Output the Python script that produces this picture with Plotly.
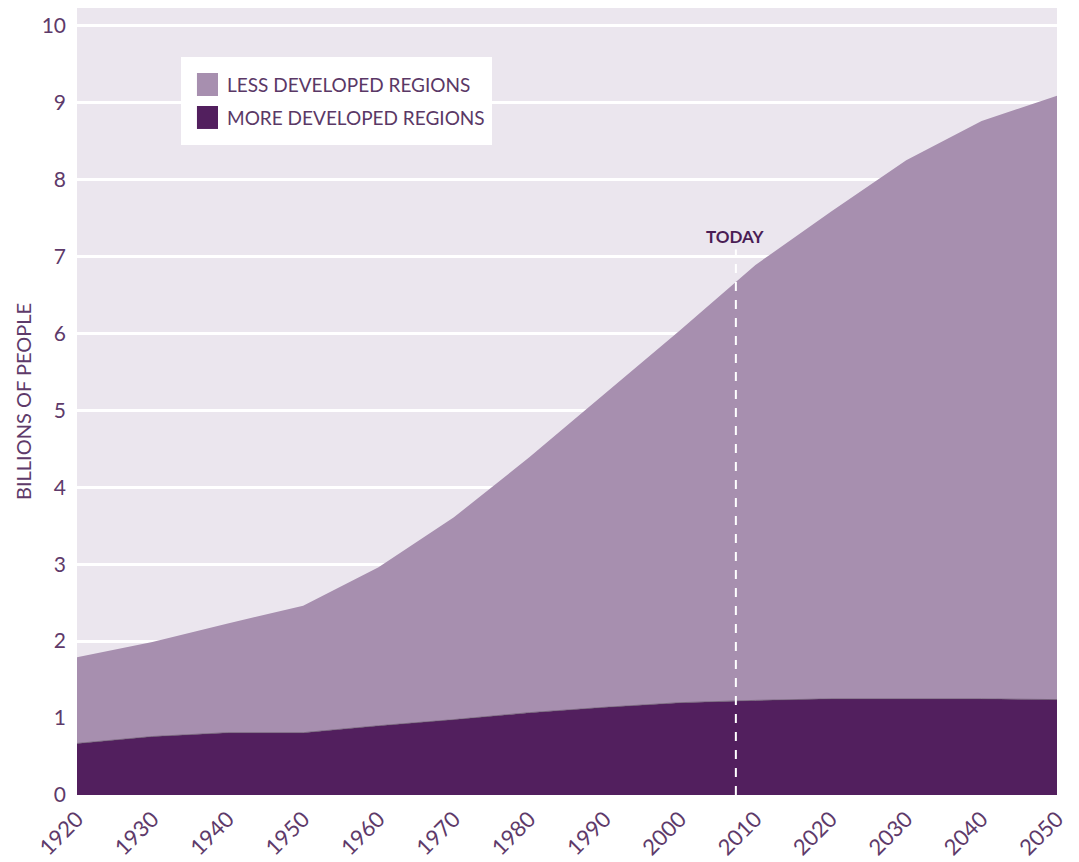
import plotly.graph_objects as go

years = [1920, 1930, 1940, 1950, 1960, 1970, 1980, 1990, 2000, 2010, 2020, 2030, 2040, 2050]
more_developed = [0.67, 0.76, 0.81, 0.81, 0.90, 0.98, 1.07, 1.14, 1.20, 1.23, 1.25, 1.25, 1.25, 1.24]
less_developed = [1.12, 1.23, 1.42, 1.65, 2.06, 2.63, 3.32, 4.08, 4.84, 5.66, 6.33, 7.00, 7.51, 7.85]
series_names = ["MORE DEVELOPED REGIONS", "LESS DEVELOPED REGIONS"]
y_ticks = [0, 1, 2, 3, 4, 5, 6, 7, 8, 9, 10]
today_year = 2007.4
today_top = 7.09

DARK = "#521F5E"
LIGHT = "#A78FAF"
BG = "#EBE6EE"
TEXT = "#5E3A6A"
FONT = "Lato"

fig = go.Figure()
fig.add_trace(go.Scatter(x=years, y=more_developed, stackgroup="pop", mode="lines",
                         line=dict(width=0.6, color="#5a4a5e"), fillcolor=DARK,
                         name=series_names[0], showlegend=False, hoverinfo="x+y"))
fig.add_trace(go.Scatter(x=years, y=less_developed, stackgroup="pop", mode="lines",
                         line=dict(width=0), fillcolor=LIGHT,
                         name=series_names[1], showlegend=False, hoverinfo="x+y"))

# TODAY marker
fig.add_shape(type="line", x0=today_year, x1=today_year, y0=0, y1=today_top,
              xref="x", yref="y", line=dict(color="white", width=2, dash="dash"))
fig.add_annotation(x=today_year, y=today_top, xref="x", yref="y", text="<b>TODAY</b>",
                   showarrow=False, yanchor="bottom", yshift=1,
                   font=dict(family=FONT, size=17, color="#4A1D55"))

# Legend box (square swatches)
fig.add_shape(type="rect", xref="paper", yref="paper", x0=0.1061, x1=0.4235,
              y0=0.8259, y1=0.9377, fillcolor="white", line=dict(width=0), layer="above")
legend_rows = [(series_names[1], LIGHT, 0.8882, 0.9174, 0.9028),
               (series_names[0], DARK, 0.8463, 0.8755, 0.8609)]
for name, col, y0, y1, yc in legend_rows:
    fig.add_shape(type="rect", xref="paper", yref="paper", x0=0.1224, x1=0.1439,
                  y0=y0, y1=y1, fillcolor=col, line=dict(width=0), layer="above")
    fig.add_annotation(xref="paper", yref="paper", x=0.1510, y=yc, text=name,
                       showarrow=False, xanchor="left", yanchor="middle",
                       font=dict(family=FONT, size=19, color="#5A3866"))

fig.update_layout(
    width=1071, height=854,
    margin=dict(l=69, r=22, t=0, b=67),
    paper_bgcolor="white",
    plot_bgcolor=BG,
    font=dict(family=FONT, color=TEXT, size=20),
    showlegend=False,
    xaxis=dict(range=[1920, 2050], tickmode="array", tickvals=years,
               ticktext=[str(y) for y in years], tickangle=-45,
               showgrid=False, zeroline=False, showline=False,
               ticklabelstandoff=6,
               tickfont=dict(family=FONT, size=22, color=TEXT), ticks=""),
    yaxis=dict(range=[0, 10.23], tickmode="array", tickvals=y_ticks,
               showgrid=True, gridcolor="white", gridwidth=3, zeroline=False,
               showline=False, ticks="", ticklabelstandoff=10,
               tickfont=dict(family=FONT, size=21, color=TEXT),
               title=dict(text="BILLIONS OF PEOPLE", standoff=4,
                          font=dict(family=FONT, size=20, color=TEXT))),
)

fig.write_html("out.html")
